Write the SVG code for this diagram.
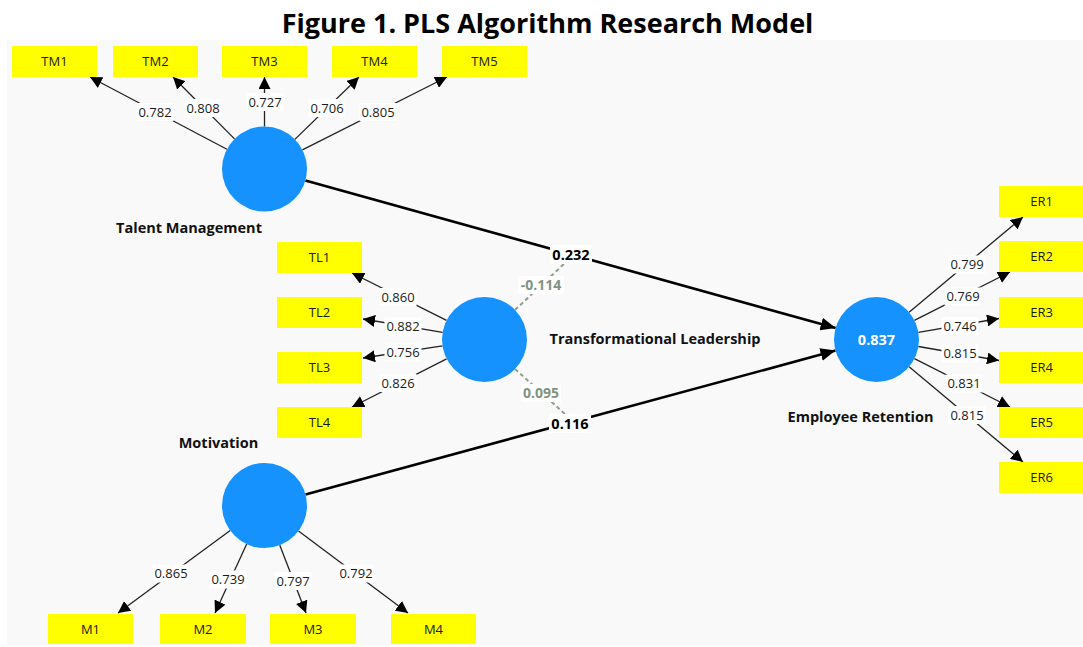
<svg xmlns="http://www.w3.org/2000/svg" width="1083" height="647" viewBox="0 0 1083 647">
  <style>
    .title { font-family: "Open Sans", "Liberation Sans", sans-serif; font-size: 27px; font-weight: bold; fill: #000; text-anchor: middle; }
    .panel { fill: #f9f9f9; }
    .ind rect { fill: #ffff00; }
    .ind text { font-family: "Open Sans", "Liberation Sans", sans-serif; font-size: 13px; fill: #1a1a1a; text-anchor: middle; }
    .lv circle { fill: #1592fe; }
    .lvname { font-family: "Open Sans", "Liberation Sans", sans-serif; font-size: 14.5px; font-weight: bold; fill: #111; text-anchor: middle; }
    .r2 { font-family: "Open Sans", "Liberation Sans", sans-serif; font-size: 14.5px; font-weight: bold; fill: #fff; text-anchor: middle; }
    .load { stroke: #222; stroke-width: 1.3; fill: none; marker-end: url(#ah); }
    .path { stroke: #000; stroke-width: 2.6; fill: none; marker-end: url(#ahb); }
    .mod { stroke: #8da08a; stroke-width: 2; stroke-dasharray: 4 3; fill: none; }
    .lbl rect { fill: #fff; }
    .lbl text { font-family: "Open Sans", "Liberation Sans", sans-serif; font-size: 13px; fill: #1a1a1a; text-anchor: middle; }
    .plbl text { font-family: "Open Sans", "Liberation Sans", sans-serif; font-size: 14.5px; font-weight: bold; fill: #000; text-anchor: middle; }
    .plbl rect { fill: #fff; }
    .mlbl text { font-family: "Open Sans", "Liberation Sans", sans-serif; font-size: 14px; font-weight: bold; fill: #7f947f; text-anchor: middle; }
    .mlbl rect { fill: #fff; }
  </style>
  <defs>
    <marker id="ah" markerUnits="userSpaceOnUse" markerWidth="12" markerHeight="12" viewBox="0 0 12 12" refX="12" refY="6" orient="auto">
      <path d="M0,0 L12,6 L0,12 z" fill="#000"/>
    </marker>
    <marker id="ahb" markerUnits="userSpaceOnUse" markerWidth="15" markerHeight="13" viewBox="0 0 15 13" refX="15" refY="6.5" orient="auto">
      <path d="M0,0 L15,6.5 L0,13 z" fill="#000"/>
    </marker>
  </defs>

  <rect width="1083" height="647" fill="#fff"/>
  <text class="title" x="547.5" y="33">Figure 1. PLS Algorithm Research Model</text>
  <rect class="panel" x="7" y="40" width="1076" height="605"/>

  <g id="connectors">
    <!-- outer loadings: Talent Management -->
    <line class="load" x1="226.9" y1="149.2" x2="90" y2="77"/>
    <line class="load" x1="234.5" y1="138.9" x2="173" y2="77"/>
    <line class="load" x1="264.5" y1="126.5" x2="264.5" y2="77"/>
    <line class="load" x1="294.9" y1="139.4" x2="359" y2="77"/>
    <line class="load" x1="302.4" y1="149.9" x2="447" y2="77"/>
    <!-- outer loadings: Transformational Leadership -->
    <line class="load" x1="446.5" y1="320.4" x2="352" y2="273"/>
    <line class="load" x1="442.6" y1="332.4" x2="363" y2="319"/>
    <line class="load" x1="442.5" y1="345.9" x2="363" y2="358"/>
    <line class="load" x1="446.6" y1="358.8" x2="352" y2="407"/>
    <!-- outer loadings: Employee Retention -->
    <line class="load" x1="909.1" y1="312.2" x2="1023" y2="217"/>
    <line class="load" x1="914.4" y1="320.3" x2="1010" y2="272"/>
    <line class="load" x1="918.4" y1="332.3" x2="999" y2="318.5"/>
    <line class="load" x1="918.4" y1="346.5" x2="999" y2="360.5"/>
    <line class="load" x1="914.4" y1="358.7" x2="1010" y2="407"/>
    <line class="load" x1="909.1" y1="366.8" x2="1023" y2="462"/>
    <!-- outer loadings: Motivation -->
    <line class="load" x1="230.2" y1="530.6" x2="118" y2="613"/>
    <line class="load" x1="246.7" y1="544.1" x2="215" y2="613"/>
    <line class="load" x1="279.8" y1="545.2" x2="306" y2="613"/>
    <line class="load" x1="298.5" y1="531" x2="408" y2="613"/>

    <!-- structural paths -->
    <line class="path" x1="305.4" y1="180.4" x2="835.6" y2="328.1"/>
    <line class="path" x1="305.5" y1="494.4" x2="835.5" y2="350.6"/>

    <!-- moderating effects -->
    <line class="mod" x1="515" y1="310" x2="566" y2="262"/>
    <line class="mod" x1="515" y1="369" x2="566" y2="415"/>

    <!-- loading values -->
    <g class="lbl" transform="translate(155,112)"><rect x="-18.5" y="-9" width="37" height="18"/><text y="4.6">0.782</text></g>
    <g class="lbl" transform="translate(203,108)"><rect x="-18.5" y="-9" width="37" height="18"/><text y="4.6">0.808</text></g>
    <g class="lbl" transform="translate(265,102)"><rect x="-18.5" y="-9" width="37" height="18"/><text y="4.6">0.727</text></g>
    <g class="lbl" transform="translate(327,108)"><rect x="-18.5" y="-9" width="37" height="18"/><text y="4.6">0.706</text></g>
    <g class="lbl" transform="translate(378,112)"><rect x="-18.5" y="-9" width="37" height="18"/><text y="4.6">0.805</text></g>

    <g class="lbl" transform="translate(398,297)"><rect x="-18.5" y="-9" width="37" height="18"/><text y="4.6">0.860</text></g>
    <g class="lbl" transform="translate(403,326.5)"><rect x="-18.5" y="-9" width="37" height="18"/><text y="4.6">0.882</text></g>
    <g class="lbl" transform="translate(403,352.5)"><rect x="-18.5" y="-9" width="37" height="18"/><text y="4.6">0.756</text></g>
    <g class="lbl" transform="translate(398,383)"><rect x="-18.5" y="-9" width="37" height="18"/><text y="4.6">0.826</text></g>

    <g class="lbl" transform="translate(967,264.5)"><rect x="-18.5" y="-9" width="37" height="18"/><text y="4.6">0.799</text></g>
    <g class="lbl" transform="translate(963,296.5)"><rect x="-18.5" y="-9" width="37" height="18"/><text y="4.6">0.769</text></g>
    <g class="lbl" transform="translate(960,326)"><rect x="-18.5" y="-9" width="37" height="18"/><text y="4.6">0.746</text></g>
    <g class="lbl" transform="translate(960,353.5)"><rect x="-18.5" y="-9" width="37" height="18"/><text y="4.6">0.815</text></g>
    <g class="lbl" transform="translate(964,383.5)"><rect x="-18.5" y="-9" width="37" height="18"/><text y="4.6">0.831</text></g>
    <g class="lbl" transform="translate(967,415)"><rect x="-18.5" y="-9" width="37" height="18"/><text y="4.6">0.815</text></g>

    <g class="lbl" transform="translate(171,573.5)"><rect x="-18.5" y="-9" width="37" height="18"/><text y="4.6">0.865</text></g>
    <g class="lbl" transform="translate(228,579.5)"><rect x="-18.5" y="-9" width="37" height="18"/><text y="4.6">0.739</text></g>
    <g class="lbl" transform="translate(293,581)"><rect x="-18.5" y="-9" width="37" height="18"/><text y="4.6">0.797</text></g>
    <g class="lbl" transform="translate(356,573.5)"><rect x="-18.5" y="-9" width="37" height="18"/><text y="4.6">0.792</text></g>

    <!-- path coefficients -->
    <g class="mlbl" transform="translate(541,285)"><rect x="-23" y="-9" width="46" height="18"/><text y="5">-0.114</text></g>
    <g class="mlbl" transform="translate(541,393)"><rect x="-20" y="-9" width="40" height="18"/><text y="5">0.095</text></g>
    <g class="plbl" transform="translate(571,254.5)"><rect x="-21" y="-9.5" width="42" height="19"/><text y="5.2">0.232</text></g>
    <g class="plbl" transform="translate(570,423.5)"><rect x="-21" y="-9.5" width="42" height="19"/><text y="5.2">0.116</text></g>
  </g>

  <!-- latent variables -->
  <g id="talent-management" class="lv">
    <circle cx="264.5" cy="169" r="42.5"/>
    <text class="lvname" x="189" y="233">Talent Management</text>
  </g>
  <g id="transformational-leadership" class="lv">
    <circle cx="484.5" cy="339.5" r="42.5"/>
    <text class="lvname" x="655" y="344">Transformational Leadership</text>
  </g>
  <g id="motivation" class="lv">
    <circle cx="264.5" cy="505.5" r="42.5"/>
    <text class="lvname" x="218.5" y="448">Motivation</text>
  </g>
  <g id="employee-retention" class="lv">
    <circle cx="876.5" cy="339.5" r="42.5"/>
    <text class="r2" x="876.5" y="344.5">0.837</text>
    <text class="lvname" x="860.5" y="422">Employee Retention</text>
  </g>

  <!-- indicators -->
  <g id="TM1" class="ind"><rect x="12" y="46" width="85" height="31"/><text x="54.5" y="66">TM1</text></g>
  <g id="TM2" class="ind"><rect x="113" y="46" width="85" height="31"/><text x="155.5" y="66">TM2</text></g>
  <g id="TM3" class="ind"><rect x="222" y="46" width="85" height="31"/><text x="264.5" y="66">TM3</text></g>
  <g id="TM4" class="ind"><rect x="332" y="46" width="85" height="31"/><text x="374.5" y="66">TM4</text></g>
  <g id="TM5" class="ind"><rect x="442" y="46" width="85" height="31"/><text x="484.5" y="66">TM5</text></g>

  <g id="TL1" class="ind"><rect x="277" y="242" width="85" height="31"/><text x="319.5" y="262">TL1</text></g>
  <g id="TL2" class="ind"><rect x="277" y="297" width="85" height="31"/><text x="319.5" y="317">TL2</text></g>
  <g id="TL3" class="ind"><rect x="277" y="352" width="85" height="31"/><text x="319.5" y="372">TL3</text></g>
  <g id="TL4" class="ind"><rect x="277" y="407" width="85" height="31"/><text x="319.5" y="427">TL4</text></g>

  <g id="ER1" class="ind"><rect x="999" y="186" width="85" height="31"/><text x="1041.5" y="206">ER1</text></g>
  <g id="ER2" class="ind"><rect x="999" y="241" width="85" height="31"/><text x="1041.5" y="261">ER2</text></g>
  <g id="ER3" class="ind"><rect x="999" y="297" width="85" height="31"/><text x="1041.5" y="317">ER3</text></g>
  <g id="ER4" class="ind"><rect x="999" y="352" width="85" height="31"/><text x="1041.5" y="372">ER4</text></g>
  <g id="ER5" class="ind"><rect x="999" y="407" width="85" height="31"/><text x="1041.5" y="427">ER5</text></g>
  <g id="ER6" class="ind"><rect x="999" y="462" width="85" height="31"/><text x="1041.5" y="482">ER6</text></g>

  <g id="M1" class="ind"><rect x="48" y="614" width="85" height="30"/><text x="90.5" y="633.5">M1</text></g>
  <g id="M2" class="ind"><rect x="160" y="614" width="86" height="30"/><text x="203" y="633.5">M2</text></g>
  <g id="M3" class="ind"><rect x="270" y="614" width="86" height="30"/><text x="313" y="633.5">M3</text></g>
  <g id="M4" class="ind"><rect x="391" y="614" width="85" height="30"/><text x="433.5" y="633.5">M4</text></g>
</svg>
